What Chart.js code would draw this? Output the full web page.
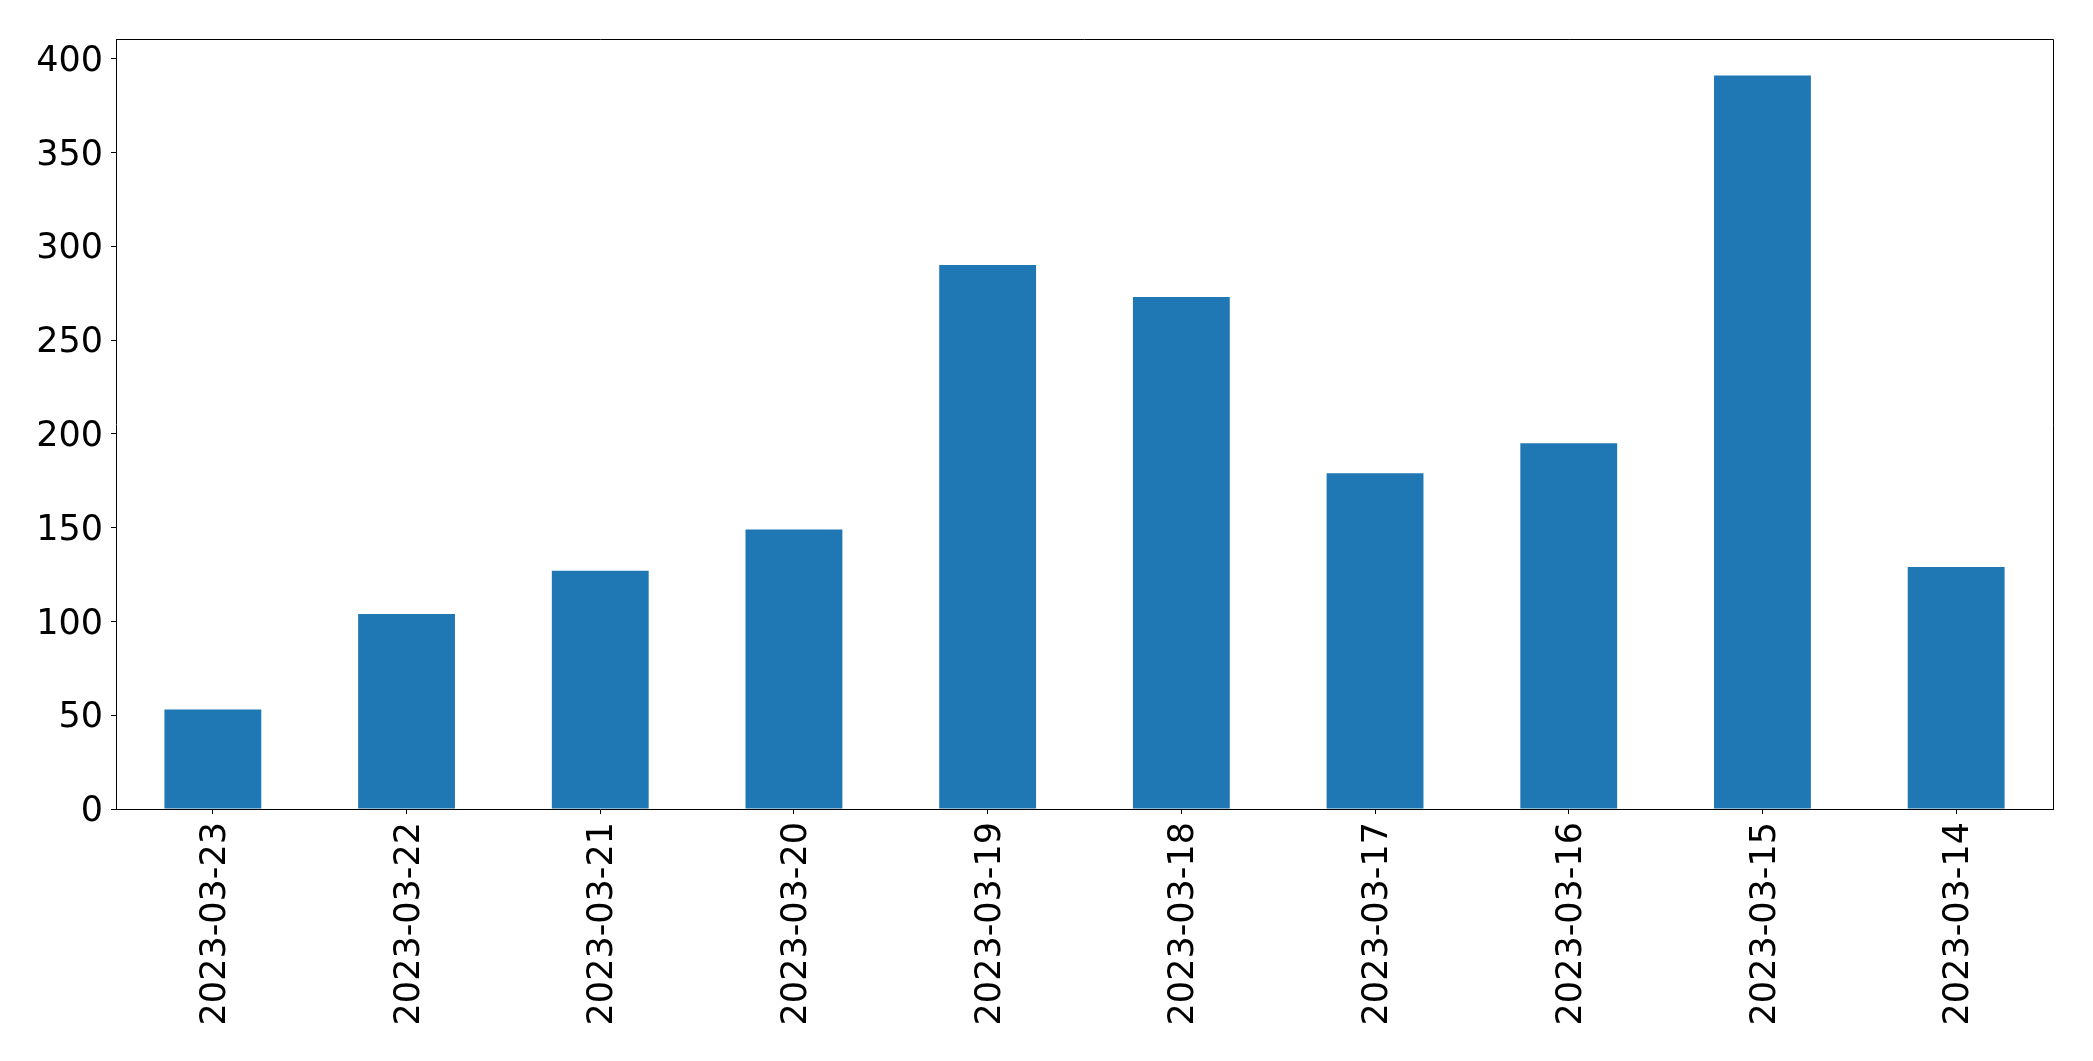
<!DOCTYPE html>
<html>
<head>
<meta charset="utf-8">
<script src="https://cdn.jsdelivr.net/npm/chart.js@4"></script>
<style>
  html, body { margin: 0; padding: 0; background: #fff; }
  canvas { display: block; }
</style>
</head>
<body>
<canvas id="chart" width="2093" height="1061"></canvas>
<script>
const dates = ['2023-03-23', '2023-03-22', '2023-03-21', '2023-03-20', '2023-03-19',
               '2023-03-18', '2023-03-17', '2023-03-16', '2023-03-15', '2023-03-14']
const counts = [53, 104, 127, 149, 290, 273, 179, 195, 391, 129]
const yTicks = [0, 50, 100, 150, 200, 250, 300, 350, 400]

// top and right edges of the box, like the matplotlib frame
const frame = {
    id: 'frame',
    afterDraw(chart) {
        const { ctx, chartArea: a } = chart
        ctx.save()
        ctx.strokeStyle = '#000'
        ctx.lineWidth = 1
        ctx.beginPath()
        ctx.moveTo(a.left, a.top + 0.5)
        ctx.lineTo(a.right + 0.5, a.top + 0.5)
        ctx.lineTo(a.right + 0.5, a.bottom)
        ctx.stroke()
        ctx.restore()
    }
}

const font = { family: 'DejaVu Sans', size: 35 }

new Chart(document.getElementById('chart').getContext('2d'), {
    type: 'bar',
    data: {
        labels: dates,
        datasets: [{
            data: counts,
            backgroundColor: '#1f77b4',
            borderWidth: 0,
            categoryPercentage: 0.5,
            barPercentage: 1.0
        }]
    },
    options: {
        responsive: false,
        animation: false,
        layout: { padding: { top: 39, right: 40, left: 0, bottom: 0 } },
        plugins: { legend: { display: false }, tooltip: { enabled: false } },
        scales: {
            x: {
                offset: true,
                grid: { offset: false, drawOnChartArea: false, tickLength: 5, color: '#000' },
                border: { color: '#000', width: 1 },
                ticks: { color: '#000', font: font, minRotation: 90, maxRotation: 90, padding: 8, labelOffset: 3, autoSkip: false },
                afterFit(scale) { scale.height = 252 }
            },
            y: {
                min: 0,
                max: 410.5,
                grid: { drawOnChartArea: false, tickLength: 5, color: '#000' },
                border: { color: '#000', width: 1 },
                ticks: { color: '#000', font: font, stepSize: 50, includeBounds: false, padding: 8, labelOffset: 3 },
                afterBuildTicks(scale) { scale.ticks = yTicks.map(v => ({ value: v })) },
                afterFit(scale) { scale.width = 116 }
            }
        }
    },
    plugins: [frame]
})
</script>
</body>
</html>
